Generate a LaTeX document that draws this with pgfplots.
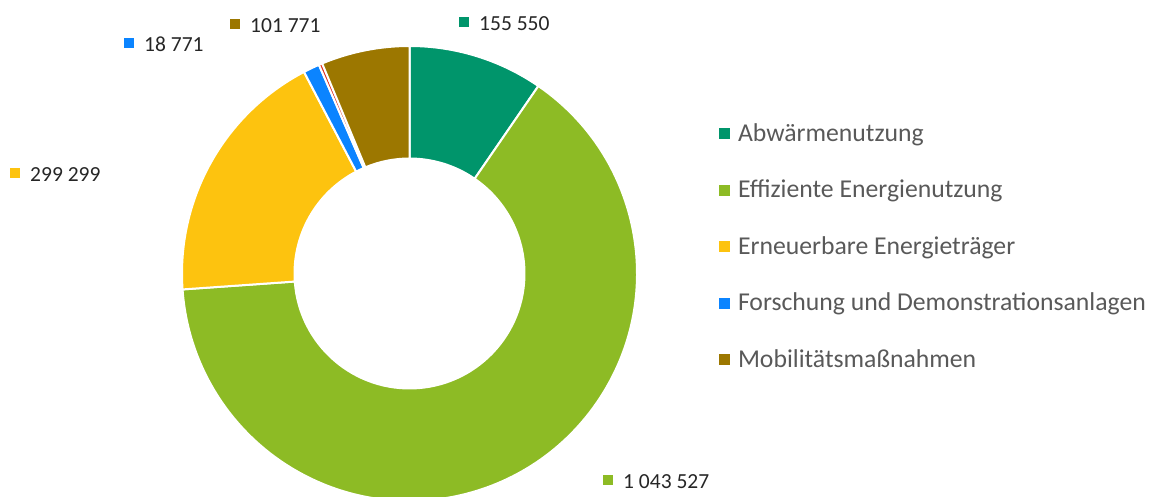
\documentclass[border=0pt]{standalone}
\usepackage{pgfplots}
\pgfplotsset{compat=1.18}
\usepackage{pgfplotstable}
\usepackage{fontspec}
\setmainfont{Carlito}
\definecolor{cAbw}{HTML}{00956B}
\definecolor{cEff}{HTML}{8DBB25}
\definecolor{cErn}{HTML}{FDC30F}
\definecolor{cFor}{HTML}{0B84FF}
\definecolor{cSon}{HTML}{E0301E}
\definecolor{cMob}{HTML}{9C7700}
\definecolor{lgray}{HTML}{595959}
\definecolor{lblack}{HTML}{262626}

% value, colour, label position (square left x, baseline y in picture pixels)
\pgfplotstableread[col sep=comma]{
name,value,color,lx,ly
Abwärmenutzung,155550,cAbw,459,31
Effiziente Energienutzung,1043527,cEff,603,489
Erneuerbare Energieträger,299299,cErn,10,182
Forschung und Demonstrationsanlagen,18771,cFor,124,52
Sonstige,4000,cSon,-1,-1
Mobilitätsmaßnahmen,101771,cMob,230,33
}\donutdata

\begin{document}
\begin{tikzpicture}
\begin{axis}[
  x=1pt, y=1pt,
  xmin=0, xmax=1151, ymin=0, ymax=497,
  hide axis, clip=true,
  legend cell align=left,
  legend style={draw=none, fill=none, inner sep=0pt, outer sep=0pt,
    at={(axis cs:719,383.75)}, anchor=north west,
    font=\fontsize{25.7}{30}\selectfont, text=lgray,
    row sep=0pt, column sep=8pt,
    nodes={inner sep=0pt, text height=28.25pt, text depth=28.25pt}},
  legend image code/.code={\fill[#1, draw=none] (0pt,2pt) rectangle (11pt,13pt);},
]
\addlegendimage{fill=cAbw, draw=none}\addlegendentry{Abwärmenutzung}
\addlegendimage{fill=cEff, draw=none}\addlegendentry{Effiziente Energienutzung}
\addlegendimage{fill=cErn, draw=none}\addlegendentry{Erneuerbare Energieträger}
\addlegendimage{fill=cFor, draw=none}\addlegendentry{Forschung und Demonstrationsanlagen}
\addlegendimage{fill=cMob, draw=none}\addlegendentry{Mobilitätsmaßnahmen}

\pgfplotsextra{
  \pgfplotstablegetrowsof{\donutdata}
  \pgfmathtruncatemacro\lastrow{\pgfplotsretval-1}
  \gdef\total{0}
  \foreach \i in {0,...,\lastrow}{
    \pgfplotstablegetelem{\i}{value}\of\donutdata
    \xdef\total{\fpeval{\total+\pgfplotsretval}}
  }
  \gdef\cum{0}
  \foreach \i in {0,...,\lastrow}{
    \pgfplotstablegetelem{\i}{value}\of\donutdata \edef\sv{\pgfplotsretval}
    \pgfplotstablegetelem{\i}{color}\of\donutdata \edef\scol{\pgfplotsretval}
    \pgfplotstablegetelem{\i}{lx}\of\donutdata \edef\slx{\pgfplotsretval}
    \pgfplotstablegetelem{\i}{ly}\of\donutdata \edef\sly{\pgfplotsretval}
    \edef\sa{\fpeval{90-360*\cum/\total}}
    \edef\sb{\fpeval{90-360*(\cum+\sv)/\total}}
    \filldraw[fill=\scol, draw=white, line width=2pt, line join=round]
      (axis cs:409.5,223.5) ++(\sa:227.5pt)
      arc[start angle=\sa, end angle=\sb, radius=227.5pt]
      -- ++(\sb:-112.5pt)
      arc[start angle=\sb, end angle=\sa, radius=115pt] -- cycle;
    \ifnum\slx<0\relax\else
      \edef\sty{\fpeval{497-\sly}}
      \node[anchor=base west, inner sep=0pt, text=lblack,
            font=\fontsize{21.5}{25}\selectfont]
        at (axis cs:\slx,\sty)
        {\textcolor{\scol}{\rule[4pt]{10pt}{10pt}}\hspace{10pt}%
         \pgfmathprintnumber[assume math mode=true, fixed, precision=0,
           1000 sep={\ }]{\sv}};
    \fi
    \xdef\cum{\fpeval{\cum+\sv}}
  }
}
\end{axis}
\pgfresetboundingbox
\path (current axis.south west) rectangle (current axis.north east);
\end{tikzpicture}
\end{document}
